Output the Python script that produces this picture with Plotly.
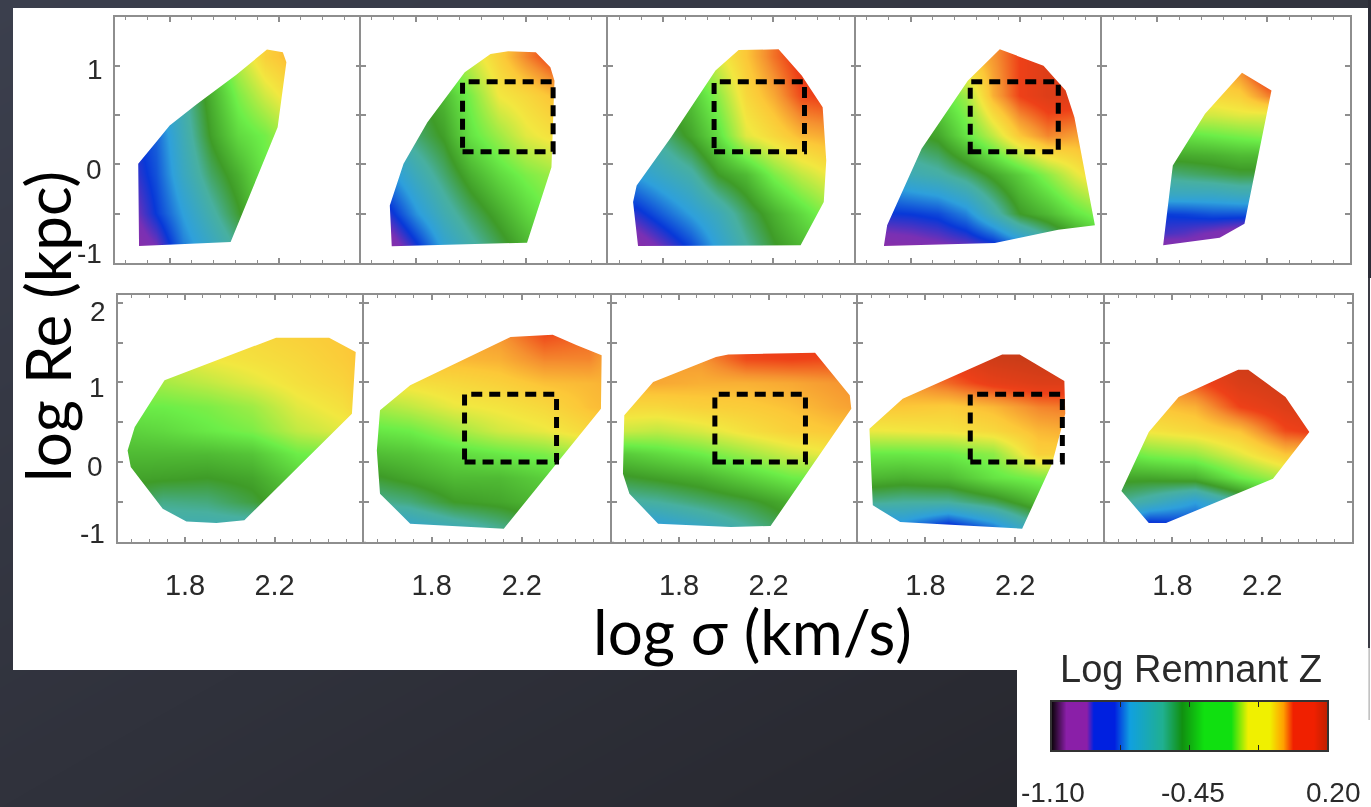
import plotly.graph_objects as go

# ---------- data ----------
Z_MIN, Z_MAX = -1.10, 0.20
top_xrange, top_yrange = [1.6, 2.5], [-1.0, 1.5]
bot_xrange, bot_yrange = [1.5, 2.6], [-1.0, 2.1]
x_tick_vals = [1.8, 2.2]
x_tick_text = ["1.8", "2.2"]
top_y_tick_vals = [-1, -0.5, 0, 0.5, 1]
bot_y_tick_vals = [-1, -0.5, 0, 0.5, 1, 1.5, 2]
top_y_labels = ["1", "0", "-1"]
bot_y_labels = ["2", "1", "0", "-1"]

top_rows = [-0.9, -0.5, -0.1, 0.3, 0.7, 1.1]
bot_rows = [-0.8, -0.5, -0.2, 0.1, 0.4, 0.7, 1.0, 1.3, 1.6]

p1_px = [1.685, 1.688, 2.023, 2.195, 2.227, 2.214, 2.156, 2.044, 1.90, 1.80, 1.75]
p1_py = [0.007, -0.828, -0.787, 0.378, 1.037, 1.139, 1.166, 0.912, 0.615, 0.395, 0.226]
p1_gx = [1.65, 1.75, 1.85, 1.95, 2.05, 2.15, 2.25]
p1_z = [[-1.05, -0.97, -0.78, -0.68, -0.58, -0.48, -0.40],
        [-0.98, -0.85, -0.72, -0.60, -0.49, -0.36, -0.30],
        [-0.92, -0.82, -0.66, -0.53, -0.44, -0.33, -0.25],
        [-0.88, -0.80, -0.63, -0.47, -0.36, -0.31, -0.22],
        [-0.80, -0.72, -0.60, -0.44, -0.30, -0.20, -0.12],
        [-0.75, -0.60, -0.50, -0.40, -0.22, -0.10, -0.05]]

p2_px = [1.705, 1.712, 2.205, 2.294, 2.305, 2.29, 2.237, 2.136, 2.072, 1.978, 1.842, 1.755]
p2_py = [-0.416, -0.831, -0.794, -0.027, 0.851, 0.986, 1.139, 1.149, 1.122, 0.936, 0.429, 0.007]
p2_gx = [1.7, 1.8, 1.9, 2.0, 2.1, 2.2, 2.3]
p2_z = [[-1.05, -0.90, -0.72, -0.62, -0.53, -0.45, -0.38],
        [-0.88, -0.74, -0.62, -0.53, -0.45, -0.37, -0.30],
        [-0.75, -0.64, -0.54, -0.44, -0.36, -0.30, -0.26],
        [-0.62, -0.54, -0.47, -0.34, -0.26, -0.18, -0.14],
        [-0.55, -0.50, -0.42, -0.30, -0.16, -0.12, -0.07],
        [-0.40, -0.36, -0.30, -0.20, -0.10, 0.00, 0.08]]

p3_px = [1.691, 1.709, 2.299, 2.383, 2.392, 2.379, 2.303, 2.219, 2.074, 1.990, 1.829, 1.704]
p3_py = [-0.382, -0.828, -0.821, -0.382, 0.041, 0.581, 0.902, 1.169, 1.162, 0.953, 0.277, -0.213]
p3_gx = [1.7, 1.8, 1.9, 2.0, 2.1, 2.2, 2.3, 2.4]
p3_z = [[-1.05, -0.96, -0.86, -0.72, -0.60, -0.50, -0.44, -0.38],
        [-0.88, -0.80, -0.72, -0.64, -0.53, -0.44, -0.36, -0.28],
        [-0.72, -0.66, -0.60, -0.48, -0.42, -0.30, -0.22, -0.16],
        [-0.60, -0.55, -0.46, -0.35, -0.18, -0.12, -0.06, -0.04],
        [-0.50, -0.45, -0.40, -0.28, -0.12, -0.04, 0.06, 0.08],
        [-0.40, -0.36, -0.30, -0.18, -0.08, 0.02, 0.10, 0.14]]

p4_px = [1.714, 1.702, 2.108, 2.340, 2.474, 2.429, 2.399, 2.367, 2.286, 2.126, 2.009, 1.84]
p4_py = [-0.618, -0.828, -0.797, -0.662, -0.618, 0.041, 0.48, 0.75, 1.003, 1.169, 0.851, 0.159]
p4_gx = [1.7, 1.8, 1.9, 2.0, 2.1, 2.2, 2.3, 2.4, 2.5]
p4_z = [[-1.05, -1.03, -1.00, -0.98, -0.95, -0.85, -0.70, -0.58, -0.45],
        [-0.86, -0.85, -0.83, -0.76, -0.62, -0.48, -0.42, -0.34, -0.28],
        [-0.68, -0.63, -0.60, -0.54, -0.46, -0.38, -0.28, -0.18, -0.10],
        [-0.55, -0.50, -0.46, -0.34, -0.22, -0.08, 0.00, -0.03, 0.00],
        [-0.45, -0.40, -0.36, -0.26, -0.05, 0.07, 0.12, 0.12, 0.10],
        [-0.30, -0.26, -0.20, -0.10, -0.02, 0.07, 0.12, 0.14, 0.14]]

p5_px = [1.857, 1.822, 2.027, 2.117, 2.215, 2.108, 1.974]
p5_py = [-0.01, -0.821, -0.743, -0.601, 0.75, 0.932, 0.514]
p5_gx = [1.8, 1.9, 2.0, 2.1, 2.2, 2.3]
p5_gy = [-0.9, -0.7, -0.5, -0.3, -0.1, 0.1, 0.3, 0.5, 0.7, 0.9]
p5_z = [[-1.05, -1.02, -1.00, -0.98, -0.96, -0.95],
        [-0.90, -0.92, -0.96, -1.00, -1.00, -1.00],
        [-0.85, -0.84, -0.82, -0.82, -0.82, -0.82],
        [-0.66, -0.66, -0.66, -0.64, -0.64, -0.64],
        [-0.56, -0.54, -0.52, -0.50, -0.50, -0.50],
        [-0.45, -0.45, -0.44, -0.42, -0.42, -0.40],
        [-0.36, -0.34, -0.32, -0.30, -0.28, -0.27],
        [-0.22, -0.20, -0.20, -0.18, -0.18, -0.18],
        [-0.10, -0.10, -0.12, -0.10, 0.00, 0.06],
        [-0.06, -0.06, -0.08, -0.03, 0.10, 0.12]]

p6_px = [1.543, 1.557, 1.70, 1.806, 1.94, 2.065, 2.546, 2.563, 2.444, 2.207, 1.708, 1.575]
p6_py = [0.146, -0.063, -0.586, -0.745, -0.766, -0.732, 0.607, 1.381, 1.561, 1.561, 1.025, 0.439]
p6_gx = [1.5, 1.7, 1.9, 2.1, 2.3, 2.5, 2.6]
p6_z = [[-0.62, -0.62, -0.62, -0.62, -0.60, -0.60, -0.60],
        [-0.50, -0.56, -0.55, -0.50, -0.42, -0.40, -0.40],
        [-0.46, -0.47, -0.48, -0.46, -0.38, -0.34, -0.32],
        [-0.42, -0.42, -0.42, -0.40, -0.32, -0.30, -0.28],
        [-0.38, -0.36, -0.33, -0.30, -0.22, -0.18, -0.16],
        [-0.32, -0.32, -0.30, -0.26, -0.18, -0.14, -0.10],
        [-0.26, -0.25, -0.22, -0.18, -0.14, -0.11, -0.08],
        [-0.22, -0.20, -0.16, -0.14, -0.12, -0.09, -0.07],
        [-0.18, -0.16, -0.14, -0.12, -0.10, -0.08, -0.06]]

p7_px = [1.571, 1.557, 1.571, 1.705, 2.12, 2.551, 2.554, 2.444, 2.337, 2.15, 1.705]
p7_py = [0.649, 0.146, -0.397, -0.774, -0.837, 0.669, 1.339, 1.464, 1.598, 1.569, 0.962]
p7_gx = [1.5, 1.7, 1.9, 2.1, 2.3, 2.5, 2.6]
p7_z = [[-0.70, -0.68, -0.62, -0.56, -0.50, -0.48, -0.46],
        [-0.58, -0.55, -0.48, -0.46, -0.42, -0.40, -0.40],
        [-0.50, -0.46, -0.42, -0.42, -0.38, -0.34, -0.32],
        [-0.42, -0.40, -0.36, -0.33, -0.30, -0.24, -0.20],
        [-0.34, -0.32, -0.26, -0.20, -0.17, -0.12, -0.08],
        [-0.26, -0.22, -0.17, -0.15, -0.12, -0.07, -0.06],
        [-0.14, -0.14, -0.12, -0.10, -0.07, -0.06, -0.05],
        [-0.06, -0.06, -0.06, -0.05, 0.00, 0.00, -0.05],
        [-0.04, -0.04, -0.04, -0.02, 0.06, 0.03, -0.02]]

p8_px = [1.555, 1.549, 1.578, 1.706, 2.031, 2.209, 2.57, 2.563, 2.408, 2.02, 1.965, 1.684]
p8_py = [0.586, -0.146, -0.397, -0.774, -0.816, -0.803, 0.669, 0.837, 1.372, 1.351, 1.318, 1.004]
p8_gx = [1.5, 1.7, 1.9, 2.1, 2.3, 2.5, 2.6]
p8_z = [[-0.75, -0.72, -0.66, -0.58, -0.50, -0.46, -0.44],
        [-0.60, -0.58, -0.54, -0.50, -0.44, -0.38, -0.36],
        [-0.50, -0.47, -0.44, -0.38, -0.32, -0.30, -0.28],
        [-0.40, -0.36, -0.32, -0.26, -0.20, -0.16, -0.14],
        [-0.20, -0.22, -0.19, -0.14, -0.10, -0.08, -0.08],
        [-0.12, -0.12, -0.10, -0.09, -0.07, -0.04, -0.03],
        [-0.05, -0.04, -0.05, -0.05, -0.04, -0.02, -0.01],
        [-0.02, -0.03, -0.02, 0.06, 0.07, 0.06, 0.05],
        [0.00, 0.00, 0.02, 0.08, 0.10, 0.10, 0.10]]

p9_px = [1.551, 1.566, 1.688, 2.231, 2.364, 2.423, 2.419, 2.22, 2.142, 1.699]
p9_py = [0.418, -0.544, -0.753, -0.837, -0.021, 0.607, 1.017, 1.351, 1.351, 0.795]
p9_gx = [1.5, 1.7, 1.9, 2.1, 2.3, 2.5, 2.6]
p9_z = [[-0.80, -0.76, -0.88, -0.76, -0.58, -0.50, -0.50],
        [-0.56, -0.58, -0.58, -0.52, -0.42, -0.38, -0.36],
        [-0.42, -0.44, -0.42, -0.34, -0.30, -0.28, -0.28],
        [-0.33, -0.33, -0.32, -0.28, -0.10, -0.10, -0.10],
        [-0.17, -0.16, -0.15, -0.12, -0.06, -0.04, -0.04],
        [-0.08, -0.08, -0.09, -0.06, 0.00, 0.02, 0.03],
        [-0.04, -0.02, 0.03, 0.09, 0.12, 0.12, 0.12],
        [0.00, 0.03, 0.10, 0.16, 0.18, 0.18, 0.18],
        [0.05, 0.10, 0.15, 0.18, 0.20, 0.20, 0.20]]

p10_px = [1.573, 1.695, 1.772, 2.248, 2.41, 2.304, 2.138, 2.093, 1.828, 1.695]
p10_py = [-0.364, -0.766, -0.766, -0.209, 0.377, 0.816, 1.159, 1.159, 0.816, 0.377]
p10_gx = [1.5, 1.7, 1.9, 2.1, 2.3, 2.5]
p10_gy = [-0.8, -0.5, -0.2, 0.1, 0.4, 0.7, 1.0, 1.3]
p10_z = [[-0.70, -0.90, -0.85, -0.75, -0.60, -0.50],
         [-0.54, -0.62, -0.72, -0.58, -0.40, -0.35],
         [-0.46, -0.46, -0.44, -0.32, -0.24, -0.20],
         [-0.36, -0.30, -0.27, -0.18, -0.08, -0.08],
         [-0.20, -0.15, -0.12, -0.07, 0.06, 0.10],
         [-0.10, -0.08, -0.05, 0.07, 0.12, 0.16],
         [-0.05, -0.03, 0.05, 0.13, 0.16, 0.18],
         [0.00, 0.04, 0.10, 0.17, 0.20, 0.20]]

# dashed boxes: x0, x1, y0, y1
box_p2 = [1.97, 2.30, 0.13, 0.84]
box_p3 = [1.985, 2.313, 0.13, 0.84]
box_p4 = [2.018, 2.34, 0.13, 0.84]
box_p7 = [1.946, 2.354, 0.0, 0.85]
box_p8 = [1.96, 2.365, 0.0, 0.85]
box_p9 = [2.0, 2.41, 0.0, 0.85]

bar_z = [-1.10, -1.03, -0.96, -0.93, -0.85, -0.78, -0.71, -0.60, -0.52, -0.45, -0.36,
         -0.24, -0.18, -0.10, -0.04, 0.02, 0.08, 0.20]
bar_tick_vals = [-0.775, -0.45, -0.125]
bar_labels = ["-1.10", "-0.45", "0.20"]

panel_scale = [[0.0, "#2a1030"], [0.06, "#8a2fa8"], [0.115, "#7a30b4"], [0.19, "#0838d8"],
               [0.29, "#2ea0dc"], [0.40, "#48b0a0"], [0.477, "#3f9c28"], [0.60, "#6cee48"],
               [0.723, "#f2e840"], [0.785, "#fcc838"], [0.838, "#f59030"], [0.90, "#ee4018"],
               [0.985, "#c83c18"], [1.0, "#c83c18"]]
bar_scale = [[0.0, "#120412"], [0.05, "#8a1fa8"], [0.125, "#8a1fa8"], [0.15, "#0020e0"],
             [0.225, "#0020e0"], [0.28, "#10a0e0"], [0.40, "#20b090"], [0.47, "#109010"],
             [0.55, "#10e010"], [0.65, "#10e010"], [0.71, "#f0f000"], [0.79, "#f0f000"],
             [0.84, "#ffa000"], [0.875, "#f02000"], [0.95, "#f02000"], [1.0, "#c02000"]]

# ---------- layout helpers ----------
W, H = 1371, 807
def fx(p): return p / W
def fy(p): return 1 - p / H

top_edges = [115, 361, 608, 856, 1102, 1350]
bot_edges = [118, 364, 612, 858, 1105, 1352]
top_span = (16.7, 263)
bot_span = (294.7, 541.7)

panels = [
    (p1_px, p1_py, p1_gx, top_rows, p1_z), (p2_px, p2_py, p2_gx, top_rows, p2_z),
    (p3_px, p3_py, p3_gx, top_rows, p3_z), (p4_px, p4_py, p4_gx, top_rows, p4_z),
    (p5_px, p5_py, p5_gx, p5_gy, p5_z),
    (p6_px, p6_py, p6_gx, bot_rows, p6_z), (p7_px, p7_py, p7_gx, bot_rows, p7_z),
    (p8_px, p8_py, p8_gx, bot_rows, p8_z), (p9_px, p9_py, p9_gx, bot_rows, p9_z),
    (p10_px, p10_py, p10_gx, p10_gy, p10_z),
]
boxes = {1: box_p2, 2: box_p3, 3: box_p4, 6: box_p7, 7: box_p8, 8: box_p9}

fig = go.Figure()
layout = {}
FRAME = "#8e8e8e"

# page background: diagonal dark gradient with the white slide areas on top
fig.add_trace(go.Heatmap(x=[0, W], y=[0, H], z=[[0.0, 0.42], [0.5, 1.0]], zsmooth="best",
                         colorscale=[[0, "#3b3f4d"], [1, "#24242a"]], showscale=False,
                         hoverinfo="skip", xaxis="x", yaxis="y"))
for (x0, x1, y0, y1, c) in [(13, W + 5, 8, 670, "white"), (1017, W + 5, 660, H + 5, "white"),
                            (1368, W + 5, 0, 278, "#2b2c36"), (1368, 1370, 278, 648, "#3a3b44"),
                            (1368.6, 1369.6, 648, 720, "#9a9a9a")]:
    fig.add_trace(go.Scatter(x=[x0, x1, x1, x0], y=[y0, y0, y1, y1], fill="toself", fillcolor=c,
                             mode="lines", line=dict(width=0), hoverinfo="skip", showlegend=False,
                             xaxis="x", yaxis="y"))
layout["xaxis"] = dict(domain=[0, 1], range=[0, W], visible=False, fixedrange=True)
layout["yaxis"] = dict(domain=[0, 1], range=[H, 0], visible=False, fixedrange=True)

shapes = []
for i, (px, py, gx, gy, z) in enumerate(panels):
    n = i + 2
    row_top = i < 5
    col = i if row_top else i - 5
    edges = top_edges if row_top else bot_edges
    span = top_span if row_top else bot_span
    xr = top_xrange if row_top else bot_xrange
    yr = top_yrange if row_top else bot_yrange
    xa, ya = f"x{n}", f"y{n}"
    fig.add_trace(go.Heatmap(x=gx, y=gy, z=z, zmin=Z_MIN, zmax=Z_MAX, colorscale=panel_scale,
                             zsmooth="best", showscale=False, hoverinfo="skip", xaxis=xa, yaxis=ya))
    # white surround leaving only the occupied region of the plane visible
    mx = [xr[0] - 1, xr[0] - 1, xr[1] + 1, xr[1] + 1, xr[0] - 1, None] + list(px) + [px[0]]
    my = [yr[0] - 1, yr[1] + 1, yr[1] + 1, yr[0] - 1, yr[0] - 1, None] + list(py) + [py[0]]
    fig.add_trace(go.Scatter(x=mx, y=my, fill="toself", fillcolor="white", mode="lines",
                             line=dict(width=0, simplify=False), hoverinfo="skip", showlegend=False,
                             xaxis=xa, yaxis=ya))
    common = dict(showline=True, linecolor=FRAME, linewidth=2, mirror="allticks", ticks="inside",
                  tickcolor=FRAME, tickwidth=1.5, showgrid=False, zeroline=False, fixedrange=True)
    layout[f"xaxis{n}"] = dict(
        domain=[fx(edges[col]), fx(edges[col + 1])], range=xr, anchor=ya,
        tickmode="array", tickvals=x_tick_vals, ticktext=x_tick_text, ticklen=5,
        minor=dict(dtick=0.08, tick0=1.8, ticks="inside", ticklen=3, tickcolor=FRAME, tickwidth=1),
        showticklabels=not row_top, ticklabelstandoff=16,
        tickfont=dict(family="Liberation Sans", size=29, color="#2a2a2a"), **common)
    layout[f"yaxis{n}"] = dict(
        domain=[fy(span[1]), fy(span[0])], range=yr, anchor=xa,
        tickmode="array", tickvals=top_y_tick_vals if row_top else bot_y_tick_vals,
        ticklen=5, showticklabels=False, **common)
    if i in boxes:
        b = boxes[i]
        shapes.append(dict(type="rect", xref=xa, yref=ya, x0=b[0], x1=b[1], y0=b[2], y1=b[3],
                           line=dict(color="black", width=5, dash="11px,7px"), layer="above"))

# colour key
fig.add_trace(go.Heatmap(x=bar_z, y=[0, 1], z=[bar_z, bar_z], zmin=Z_MIN, zmax=Z_MAX,
                         colorscale=bar_scale, zsmooth="best", showscale=False, hoverinfo="skip",
                         xaxis="x12", yaxis="y12"))
layout["xaxis12"] = dict(domain=[fx(1052), fx(1327)], range=[Z_MIN, Z_MAX], anchor="y12",
                         tickmode="array", tickvals=bar_tick_vals, ticks="inside", ticklen=5,
                         tickcolor="#222222", showticklabels=False, showline=True, mirror="allticks",
                         linecolor="#333333", linewidth=1.5, showgrid=False, zeroline=False, fixedrange=True)
layout["yaxis12"] = dict(domain=[fy(750), fy(702)], range=[0, 1], anchor="x12", showticklabels=False,
                         ticks="", showline=True, mirror=True, linecolor="#333333", linewidth=1.5,
                         showgrid=False, zeroline=False, fixedrange=True)

def note(text, x, y, size, family, color="black", angle=0):
    return dict(text=text, x=fx(x), y=fy(y), xref="paper", yref="paper", showarrow=False,
                xanchor="center", yanchor="middle", textangle=angle,
                font=dict(family=family, size=size, color=color))

SANS, INK = "Liberation Sans", "#2a2a2a"
annotations = [
    note("log Re (kpc)", 47, 327, 62, "Lato", angle=-90),
    note("log σ (km/s)", 752, 631, 62, "Lato"),
    note("Log Remnant Z", 1191, 669, 38, SANS, INK),
    note(bar_labels[0], 1053, 792, 28, SANS, INK),
    note(bar_labels[1], 1193, 792, 28, SANS, INK),
    note(bar_labels[2], 1333, 792, 28, SANS, INK),
]
# row labels sit a little off their ticks in the original
for lab, x, y in zip(top_y_labels, [95, 94, 89], [70, 169, 254]):
    annotations.append(note(lab, x, y, 28, SANS, INK))
for lab, x, y in zip(bot_y_labels, [98, 97, 95, 92], [311, 387, 466, 533]):
    annotations.append(note(lab, x, y, 28, SANS, INK))

fig.update_layout(width=W, height=H, margin=dict(l=0, r=0, t=0, b=0, pad=0, autoexpand=False), autosize=False,
                  paper_bgcolor="#2b2c36", plot_bgcolor="rgba(0,0,0,0)", showlegend=False,
                  shapes=shapes, annotations=annotations, **layout)

fig.write_html("out.html", config={"displayModeBar": False},
               post_script="document.documentElement.style.overflow='hidden';"
                           "document.body.style.margin='0';document.body.style.background='#2b2c36';"
                           "document.querySelector('.js-plotly-plot').style.filter='blur(0.6px)';")
